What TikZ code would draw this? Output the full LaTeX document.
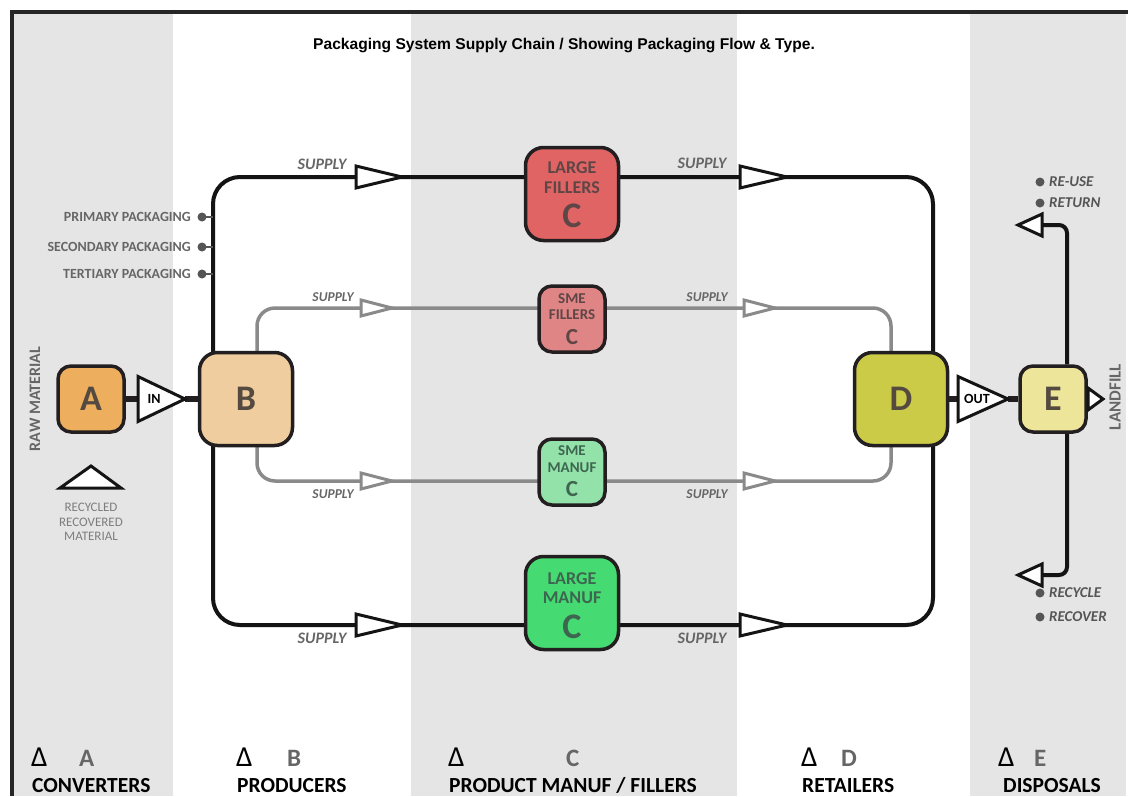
\documentclass[tikz,border=0pt]{standalone}
\usepackage{fontspec}
\setmainfont{Carlito}
\newfontfamily\titlefont{Liberation Sans}
\newcommand{\fsz}[1]{\fontsize{#1}{#1}\selectfont}
\newcommand{\flowtri}[5]{\path[#1] (#2,{#4-#5}) -- (#3,#4) -- (#2,{#4+#5}) -- cycle;}
\definecolor{bandgray}{HTML}{E5E5E5}
\definecolor{boxline}{HTML}{231F20}
\definecolor{labgray}{HTML}{666666}
\definecolor{dotgray}{HTML}{555555}
\definecolor{flowgray}{HTML}{8A8A8A}
\definecolor{cA}{HTML}{EDAE5E}
\definecolor{cB}{HTML}{EFCD9E}
\definecolor{cLF}{HTML}{E06464}
\definecolor{cSF}{HTML}{E08585}
\definecolor{cSM}{HTML}{93E2AA}
\definecolor{cLM}{HTML}{45DB72}
\definecolor{cD}{HTML}{CBCB48}
\definecolor{cE}{HTML}{EDE69A}
\definecolor{txtR}{HTML}{5E4646}
\definecolor{txtG}{HTML}{3E6550}
\definecolor{txtN}{HTML}{554A40}
\tikzset{
 box/.style={draw=boxline, line width=3.5pt, inner sep=0pt},
 bigbox/.style={box, minimum width=93pt, minimum height=93pt, rounded corners=18pt},
 smallbox/.style={box, minimum width=66pt, minimum height=66pt, rounded corners=13pt},
 blackflow/.style={draw=black!92, line width=4pt},
 grayflow/.style={draw=flowgray, line width=3.5pt},
 link/.style={draw=boxline, line width=6pt},
 tri/.style={draw=black!92, fill=white, line width=3pt, line join=miter},
 gtri/.style={draw=flowgray, fill=white, line width=3pt, line join=miter},
 supply/.style={font=\fsz{16}\bfseries\itshape, text=labgray, inner sep=0pt},
 gsupply/.style={font=\fsz{13.5}\bfseries\itshape, text=labgray, inner sep=0pt},
 pkg/.style={font=\fsz{14}\bfseries, text=labgray, inner sep=0pt},
 dis/.style={font=\fsz{15}\bfseries\itshape, text=dotgray, inner sep=0pt},
 letter/.style={font=\fsz{36}\bfseries, inner sep=0pt},
 btitle/.style={font=\fsz{18}\bfseries, inner sep=0pt, anchor=base},
 stitle/.style={font=\fsz{15}\bfseries, inner sep=0pt, anchor=base},
 foot/.style={font=\fsz{21.5}\bfseries, inner sep=0pt, anchor=base west},
 footl/.style={font=\fsz{25}\bfseries, inner sep=0pt, anchor=base west},
 delta/.style={font=\fsz{29}, inner sep=0pt, anchor=base west},
}
\begin{document}
\begin{tikzpicture}[x=1pt,y=-1pt]
\useasboundingbox (0,0) rectangle (1128,796);
% bands
\fill[white] (0,0) rectangle (1128,796);
\fill[bandgray] (12,12) rectangle (173,796);
\fill[bandgray] (411,12) rectangle (737,796);
\fill[bandgray] (970,12) rectangle (1126,796);
\draw[line width=3.5pt, black!85] (10,12) -- (1128,12);
\draw[line width=3.5pt, black!85] (12,10) -- (12,796);

% title
\node[font=\titlefont\fsz{15.6}\bfseries, inner sep=0pt] (title) at (564,45) {Packaging System Supply Chain / Showing Packaging Flow \& Type.};

% flow coordinates
\coordinate (bo) at (213,399);
\coordinate (do) at (933,399);
\coordinate (bg) at (257,399);
\coordinate (dg) at (891,399);
\coordinate (rowT) at (0,177);
\coordinate (rowB) at (0,625);
\coordinate (rowt) at (0,308);
\coordinate (rowb) at (0,481);

% loops
\draw[blackflow, rounded corners=27pt] (bo) -- (bo |- rowT) -- (do |- rowT) -- (do);
\draw[blackflow, rounded corners=27pt] (bo) -- (bo |- rowB) -- (do |- rowB) -- (do);
\draw[grayflow, rounded corners=18pt] (bg) -- (bg |- rowt) -- (dg |- rowt) -- (dg);
\draw[grayflow, rounded corners=18pt] (bg) -- (bg |- rowb) -- (dg |- rowb) -- (dg);

% packaging labels
\foreach \yy/\nm/\tx in {217/p1/PRIMARY PACKAGING, 247/p2/SECONDARY PACKAGING, 274/p3/TERTIARY PACKAGING}{
  \draw[dotgray, line width=2.5pt] (202,\yy) -- (213,\yy);
  \fill[dotgray] (202,\yy) circle (4.5pt);
  \node[pkg, anchor=east] (\nm) at (191,\yy) {\tx};
}

% supply triangles
\flowtri{tri}{356}{402}{177}{11}
\flowtri{tri}{740}{787}{177}{11}
\flowtri{tri}{356}{402}{625}{11}
\flowtri{tri}{740}{787}{625}{11}
\flowtri{gtri}{361}{392}{308}{8}
\flowtri{gtri}{744}{775}{308}{8}
\flowtri{gtri}{361}{392}{481}{8}
\flowtri{gtri}{744}{775}{481}{8}

% supply labels
\node[supply] (s1) at (322,164) {SUPPLY};
\node[supply] (s2) at (702,163) {SUPPLY};
\node[supply] (s3) at (322,638) {SUPPLY};
\node[supply] (s4) at (702,638) {SUPPLY};
\node[gsupply] (s5) at (333,297) {SUPPLY};
\node[gsupply] (s6) at (707,297) {SUPPLY};
\node[gsupply] (s7) at (333,494) {SUPPLY};
\node[gsupply] (s8) at (707,494) {SUPPLY};

% E return lines
\coordinate (eup) at (1067,225);
\coordinate (edn) at (1067,575);
\coordinate (retT) at (1042,225);
\coordinate (retB) at (1042,575);
\coordinate (inb) at (138,399);
\coordinate (ina) at (185,399);
\coordinate (outb) at (958,399);
\coordinate (outa) at (1008,399);

% boxes
\node[smallbox, fill=cA] (a) at (91,399) {};
\node[bigbox, fill=cB] (b) at (246,399) {};
\node[bigbox, fill=cLF] (lf) at (572,194) {};
\node[smallbox, fill=cSF] (sf) at (572,319) {};
\node[smallbox, fill=cSM] (sm) at (572,472) {};
\node[bigbox, fill=cLM] (lm) at (572,603) {};
\node[bigbox, fill=cD] (d) at (901,399) {};
\node[smallbox, fill=cE] (e) at (1053,399) {};

\draw[blackflow, rounded corners=8pt] ([xshift=14pt]e.north) -- (eup) -- (retT);
\draw[blackflow, rounded corners=8pt] ([xshift=14pt]e.south) -- (edn) -- (retB);
\flowtri{tri}{1042}{1018}{225}{11}
\flowtri{tri}{1042}{1018}{575}{11}
\flowtri{tri}{1088}{1103}{399}{11}

% links
\draw[link] (a.east) -- (inb);
\draw[link] (ina) -- (b.west);
\draw[link] (d.east) -- (outb);
\draw[link] (outa) -- (e.west);
\flowtri{tri}{138}{185}{399}{22.5}
\flowtri{tri}{958}{1008}{399}{22.5}
\node[font=\fsz{14}\bfseries, inner sep=0pt] (in) at (154,399) {IN};
\node[font=\fsz{14}\bfseries, inner sep=0pt] (out) at (977,399) {OUT};

% box letters
\node[letter, text=txtN] (la) at (a.center) {A};
\node[letter, text=txtN] (lb) at (b.center) {B};
\node[letter, text=txtN] (ld) at (d.center) {D};
\node[letter, text=txtN] (le) at (e.center) {E};

\node[btitle, text=txtR] (lf1) at (572,173) {LARGE};
\node[btitle, text=txtR] (lf2) at (572,193) {FILLERS};
\node[letter, anchor=base, text=txtR] (lf3) at (572,227) {C};
\node[stitle, text=txtR] (sf1) at (572,303) {SME};
\node[stitle, text=txtR] (sf2) at (572,319) {FILLERS};
\node[font=\fsz{23}\bfseries, anchor=base, inner sep=0pt, text=txtR] (sf3) at (572,344) {C};
\node[stitle, text=txtG] (sm1) at (572,455) {SME};
\node[stitle, text=txtG] (sm2) at (572,472) {MANUF};
\node[font=\fsz{23}\bfseries, anchor=base, inner sep=0pt, text=txtG] (sm3) at (572,496) {C};
\node[btitle, text=txtG] (lm1) at (572,584) {LARGE};
\node[btitle, text=txtG] (lm2) at (572,603) {MANUF};
\node[letter, anchor=base, text=txtG] (lm3) at (572,638) {C};

% raw material / recycled
\node[font=\fsz{16}\bfseries, text=labgray, rotate=90, inner sep=0pt] (raw) at (35,399) {RAW MATERIAL};
\path[tri] (91,466) -- (121,488) -- (60,488) -- cycle;
\node[font=\fsz{13}, text=labgray!85, inner sep=0pt, anchor=base] (rec1) at (91,511) {RECYCLED};
\node[font=\fsz{13}, text=labgray!85, inner sep=0pt, anchor=base] (rec2) at (91,526) {RECOVERED};
\node[font=\fsz{13}, text=labgray!85, inner sep=0pt, anchor=base] (rec3) at (91,540) {MATERIAL};
\node[font=\fsz{17}\bfseries, text=labgray, rotate=90, inner sep=0pt] (landfill) at (1115,397) {LANDFILL};

% disposal labels
\foreach \yy/\nm/\tx in {182/r1/RE-USE, 203/r2/RETURN, 593/r3/RECYCLE, 617/r4/RECOVER}{
  \fill[dotgray] (1040,\yy) circle (4.5pt);
  \node[dis, anchor=west] (\nm) at (1049,\yy) {\tx};
}

% footer
\node[delta] (fa1) at (31,766) {Δ};
\node[footl, text=labgray] (fa2) at (79,766) {A};
\node[foot] (fa3) at (32,792) {CONVERTERS};
\node[delta] (fb1) at (236,766) {Δ};
\node[footl, text=labgray] (fb2) at (287,766) {B};
\node[foot] (fb3) at (237,792) {PRODUCERS};
\node[delta] (fc1) at (448,766) {Δ};
\node[footl, text=labgray] (fc2) at (566,766) {C};
\node[foot] (fc3) at (449,792) {PRODUCT MANUF / FILLERS};
\node[delta] (fd1) at (801,766) {Δ};
\node[footl, text=labgray] (fd2) at (841,766) {D};
\node[foot] (fd3) at (802,792) {RETAILERS};
\node[delta] (fe1) at (998,766) {Δ};
\node[footl, text=labgray] (fe2) at (1034,766) {E};
\node[foot] (fe3) at (1003,792) {DISPOSALS};
\end{tikzpicture}
\end{document}
